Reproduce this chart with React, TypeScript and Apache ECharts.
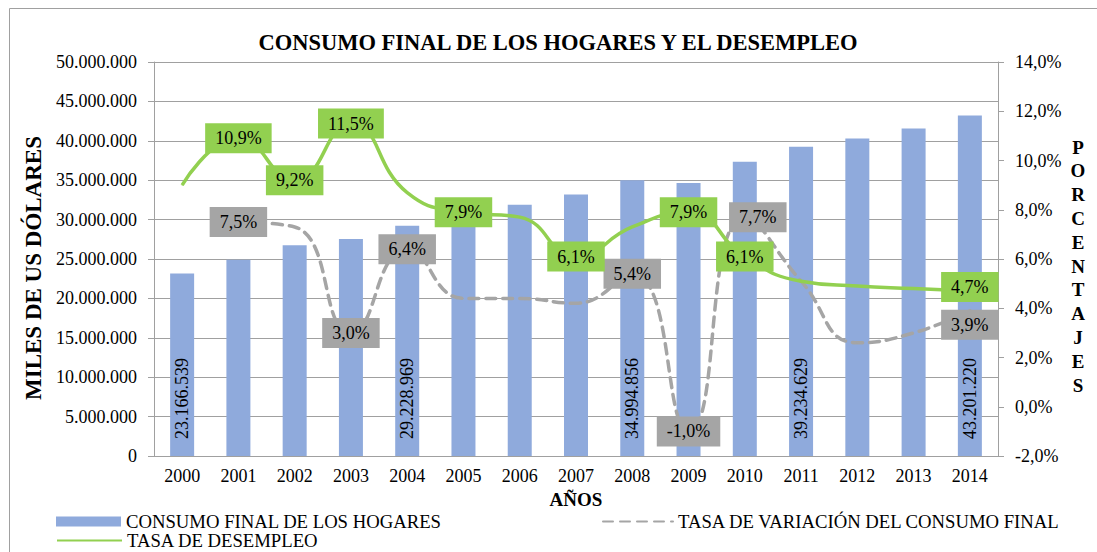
import React, { useEffect, useRef } from "react";
import * as echarts from "echarts";

const years = ["2000", "2001", "2002", "2003", "2004", "2005", "2006", "2007", "2008", "2009", "2010", "2011", "2012", "2013", "2014"];
const consumo = [23166539, 24900000, 26750000, 27550000, 29228969, 30520000, 31900000, 33200000, 34994856, 34650000, 37330000, 39234629, 40300000, 41550000, 43201220];
const variacion: (number | null)[] = [null, 7.5, 7.3, 3.0, 6.4, 4.4, 4.4, 4.2, 5.4, -1.0, 7.7, 5.1, 2.6, 3.0, 3.9];
const desempleo = [9.0, 10.9, 9.2, 11.5, 8.7, 7.9, 7.7, 6.1, 7.3, 7.9, 6.1, 5.1, 4.9, 4.8, 4.7];

const consumoLabeled = ["2000", "2004", "2008", "2011", "2014"];
const variacionLabeled = ["2001", "2003", "2004", "2008", "2009", "2010", "2014"];
const desempleoLabeled = ["2001", "2002", "2003", "2005", "2007", "2009", "2010", "2014"];

const leftAxis = { min: 0, max: 50000000, interval: 5000000 };
const rightAxis = { min: -2, max: 14, interval: 2 };

const TITLE = "CONSUMO FINAL DE LOS HOGARES Y EL DESEMPLEO";
const NAME_BAR = "CONSUMO FINAL DE LOS HOGARES";
const NAME_VAR = "TASA DE VARIACIÓN DEL CONSUMO FINAL";
const NAME_DES = "TASA DE DESEMPLEO";

const FONT = "'Liberation Serif', 'Times New Roman', serif";
const BLUE = "#8faadc";
const GREEN = "#92d050";
const GRAY = "#a5a5a5";
const GRID = "#a0a0a0";

const labelOffsetsVar: Record<string, number[]> = { "2010": [13, 0], "2014": [0, 14] };
const labelOffsetsDes: Record<string, number[]> = { "2014": [0, -4] };

const fmtThousands = (v: number) => Math.round(v).toString().replace(/\B(?=(\d{3})+(?!\d))/g, ".");
const fmtPct = (v: number) => v.toFixed(1).replace(".", ",") + "%";

export default function App() {
  const ref = useRef<HTMLDivElement>(null);
  useEffect(() => {
    document.body.style.margin = "0";
    document.body.style.overflow = "hidden";
    if (!ref.current) return;
    const chart = echarts.init(ref.current, null, { renderer: "svg" });

    const boxLabel = (bg: string, offset?: number[]) => ({
      show: true,
      position: "inside",
      formatter: (p: any) => fmtPct(p.value),
      backgroundColor: bg,
      color: "#000",
      fontFamily: FONT,
      fontSize: 18,
      lineHeight: 20,
      padding: [5, 10, 5, 10],
      offset: offset || [0, 0],
    });

    const barData = consumo.map((v, i) =>
      consumoLabeled.includes(years[i])
        ? {
            value: v,
            label: {
              show: true,
              position: "insideBottom",
              distance: 17,
              rotate: 90,
              align: "left",
              verticalAlign: "middle",
              formatter: (p: any) => fmtThousands(p.value),
              color: "#000",
              fontFamily: FONT,
              fontSize: 18,
            },
          }
        : v
    );
    const varData = variacion.map((v, i) =>
      v !== null && variacionLabeled.includes(years[i])
        ? { value: v, label: boxLabel(GRAY, labelOffsetsVar[years[i]]) }
        : v
    );
    const desData = desempleo.map((v, i) =>
      desempleoLabeled.includes(years[i])
        ? { value: v, label: boxLabel(GREEN, labelOffsetsDes[years[i]]) }
        : v
    );

    const legendText = { fontFamily: FONT, fontSize: 18.7, lineHeight: 16, color: "#000" };

    chart.setOption({
      animation: false,
      backgroundColor: "#fff",
      textStyle: { fontFamily: FONT },
      title: {
        text: TITLE,
        left: 558,
        top: 31,
        textAlign: "center",
        padding: 0,
        textStyle: { fontFamily: FONT, fontSize: 22.5, fontWeight: "bold", color: "#000" },
      },
      grid: { left: 154, right: 99, top: 62, bottom: 96, containLabel: false },
      legend: [
        {
          data: [{ name: NAME_BAR, icon: "rect" }],
          left: 56,
          top: 512,
          padding: 0,
          itemWidth: 65,
          itemHeight: 10,
          textStyle: legendText,
          selectedMode: false,
        },
        {
          data: [{ name: NAME_VAR, itemStyle: { opacity: 0 } }],
          left: 602,
          top: 512,
          padding: 0,
          itemWidth: 70,
          itemHeight: 14,
          textStyle: legendText,
          selectedMode: false,
        },
        {
          data: [{ name: NAME_DES, itemStyle: { opacity: 0 } }],
          left: 56,
          top: 531,
          padding: 0,
          itemWidth: 65,
          itemHeight: 14,
          textStyle: legendText,
          selectedMode: false,
        },
      ],
      xAxis: {
        type: "category",
        data: years,
        axisLine: { lineStyle: { color: GRID, width: 1 } },
        axisTick: { show: false },
        axisLabel: { color: "#000", fontFamily: FONT, fontSize: 18, margin: 11 },
        name: "AÑOS",
        nameLocation: "middle",
        nameGap: 34,
        nameTextStyle: { fontFamily: FONT, fontSize: 19, fontWeight: "bold", color: "#000" },
      },
      yAxis: [
        {
          type: "value",
          min: leftAxis.min,
          max: leftAxis.max,
          interval: leftAxis.interval,
          axisLine: { show: true, lineStyle: { color: GRID, width: 1 } },
          axisTick: { show: true, length: 6, lineStyle: { color: GRID } },
          splitLine: { show: true, lineStyle: { color: GRID, width: 1 } },
          axisLabel: {
            color: "#000",
            fontFamily: FONT,
            fontSize: 18,
            margin: 17,
            formatter: (v: number) => fmtThousands(v),
          },
          name: "MILES DE US DÓLARES",
          nameLocation: "middle",
          nameRotate: 90,
          nameGap: 85,
          nameTextStyle: { fontFamily: FONT, fontSize: 23, fontWeight: "bold", color: "#000", padding: [0, 18, 0, 0] },
        },
        {
          type: "value",
          min: rightAxis.min,
          max: rightAxis.max,
          interval: rightAxis.interval,
          position: "right",
          axisLine: { show: true, lineStyle: { color: GRID, width: 1 } },
          axisTick: { show: true, length: 6, lineStyle: { color: GRID } },
          splitLine: { show: false },
          axisLabel: {
            color: "#000",
            fontFamily: FONT,
            fontSize: 18,
            margin: 17,
            formatter: (v: number) => fmtPct(v),
          },
        },
      ],
      graphic: [
        {
          type: "rect",
          shape: { x: 9.5, y: 8.5, width: 1200, height: 600 },
          style: { fill: "none", stroke: GRID, lineWidth: 1 },
          silent: true,
          z: -10,
        },
        {
          type: "text",
          x: 1078,
          y: 266,
          style: {
            text: "PORCENTAJES".split("").join("\n"),
            fontFamily: FONT,
            fontSize: 19,
            fontWeight: "bold",
            lineHeight: 23.8,
            fill: "#000",
            align: "center",
            verticalAlign: "middle",
          },
        },
      ],
      series: [
        {
          name: NAME_BAR,
          type: "bar",
          data: barData,
          barWidth: 24,
          itemStyle: { color: BLUE },
          z: 2,
        },
        {
          name: NAME_VAR,
          type: "line",
          yAxisIndex: 1,
          data: varData,
          smooth: true,
          symbol: "circle",
          symbolSize: 1,
          showSymbol: true,
          itemStyle: { color: GRAY },
          lineStyle: { color: GRAY, width: 3.5, type: [10, 7], cap: "round" },
          z: 3,
        },
        {
          name: NAME_DES,
          type: "line",
          yAxisIndex: 1,
          data: desData,
          smooth: true,
          symbol: "circle",
          symbolSize: 1,
          showSymbol: true,
          itemStyle: { color: GREEN },
          lineStyle: { color: GREEN, width: 3.5 },
          z: 4,
        },
      ],
    });
    return () => chart.dispose();
  }, []);
  return <div ref={ref} style={{ width: 1097, height: 552 }} />;
}
